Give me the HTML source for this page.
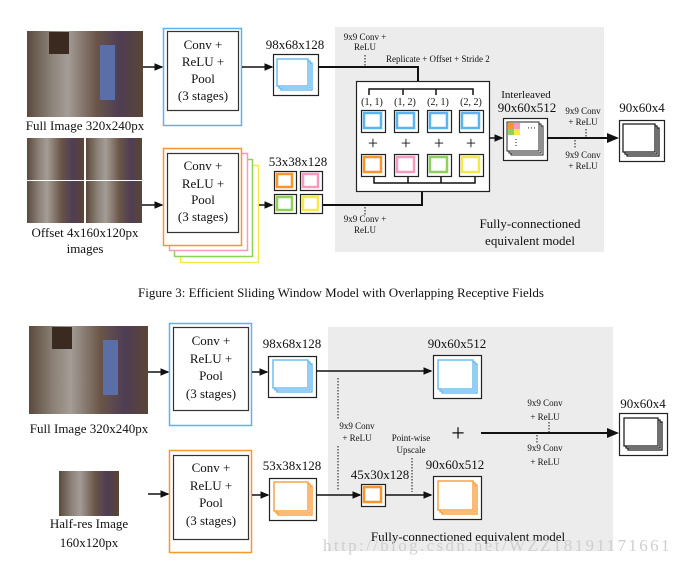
<!DOCTYPE html>
<html><head><meta charset="utf-8"><style>
html,body{margin:0;padding:0;background:#fff;width:683px;height:565px;overflow:hidden}
svg{display:block}
text{font-family:"Liberation Serif",serif;fill:#111}
.s{font-size:9px}
.m{font-size:13px}
</style></head><body>
<svg width="683" height="565" viewBox="0 0 683 565" xmlns="http://www.w3.org/2000/svg">
<defs>
<marker id="a" markerWidth="6" markerHeight="6" refX="5" refY="3" orient="auto"><path d="M0,0.5 L6,3 L0,5.5z" fill="#111"/></marker>
<linearGradient id="ph" x1="0" x2="1"><stop offset="0" stop-color="#5b4a3c"/><stop offset=".2" stop-color="#8a8076"/><stop offset=".35" stop-color="#a49d96"/><stop offset=".6" stop-color="#6a5548"/><stop offset=".8" stop-color="#4f3d54"/><stop offset="1" stop-color="#5a4535"/></linearGradient>
</defs>
<!-- gray regions -->
<rect x="335" y="27" width="269" height="225" fill="#ececec"/>
<rect x="328" y="327" width="285" height="224" fill="#ececec"/>

<!-- TOP FIGURE -->
<rect x="27" y="31" width="116" height="86" fill="url(#ph)"/>
<rect x="49" y="32" width="20" height="22" fill="#3a2a20"/>
<rect x="100" y="45" width="15" height="55" fill="#5a6fa8"/>
<text x="85" y="130" class="m" text-anchor="middle">Full Image 320x240px</text>

<rect x="27" y="138" width="57" height="42" fill="url(#ph)"/><rect x="86" y="138" width="56" height="42" fill="url(#ph)"/>
<rect x="27" y="181" width="57" height="42" fill="url(#ph)"/><rect x="86" y="181" width="56" height="42" fill="url(#ph)"/>
<text x="85" y="237" class="m" text-anchor="middle">Offset 4x160x120px</text>
<text x="85" y="253" class="m" text-anchor="middle">images</text>

<rect x="163.5" y="28.5" width="78" height="97" fill="#fff" stroke="#5ab4ee" stroke-width="1.5"/>
<rect x="167.5" y="31.5" width="71" height="79" fill="#fff" stroke="#333" stroke-width="1.2"/>
<text x="203" y="49" class="m" text-anchor="middle">Conv +</text>
<text x="203" y="66" class="m" text-anchor="middle">ReLU +</text>
<text x="203" y="83" class="m" text-anchor="middle">Pool</text>
<text x="203" y="100" class="m" text-anchor="middle">(3 stages)</text>

<rect x="180.5" y="165.5" width="78" height="97" fill="#fff" stroke="#f5e94a" stroke-width="1.5"/>
<rect x="174.5" y="159.5" width="78" height="97" fill="#fff" stroke="#8fd05a" stroke-width="1.5"/>
<rect x="169.5" y="153.5" width="78" height="97" fill="#fff" stroke="#f79ac0" stroke-width="1.5"/>
<rect x="163.5" y="148.5" width="78" height="97" fill="#fff" stroke="#f7962e" stroke-width="1.5"/>
<rect x="167.5" y="153.5" width="71" height="79" fill="#fff" stroke="#333" stroke-width="1.2"/>
<text x="203" y="170" class="m" text-anchor="middle">Conv +</text>
<text x="203" y="188" class="m" text-anchor="middle">ReLU +</text>
<text x="203" y="204" class="m" text-anchor="middle">Pool</text>
<text x="203" y="221" class="m" text-anchor="middle">(3 stages)</text>

<line x1="143" y1="67" x2="162" y2="67" stroke="#111" stroke-width="1.5" marker-end="url(#a)"/>
<line x1="142" y1="205" x2="162" y2="205" stroke="#111" stroke-width="1.5" marker-end="url(#a)"/>
<line x1="242" y1="67" x2="272" y2="67" stroke="#111" stroke-width="1.5" marker-end="url(#a)"/>
<line x1="259" y1="205" x2="272" y2="205" stroke="#111" stroke-width="1.5" marker-end="url(#a)"/>

<text x="295" y="49" class="m" text-anchor="middle">98x68x128</text>
<rect x="273.5" y="54.5" width="45" height="41" fill="#fff" stroke="#222" stroke-width="1.2"/>
<rect x="281" y="63" width="31" height="27" fill="#fff" stroke="#5ab4ee" stroke-width="1.3"/>
<rect x="279" y="61" width="31" height="27" fill="#fff" stroke="#5ab4ee" stroke-width="1.3"/>
<rect x="277" y="59" width="31" height="27" fill="#fff" stroke="#5ab4ee" stroke-width="1.3"/>

<text x="298" y="166" class="m" text-anchor="middle">53x38x128</text>
<g stroke-width="1.2">
<rect x="274.5" y="171.5" width="22" height="19" fill="#fff" stroke="#222"/><rect x="277" y="174" width="15" height="13" fill="#fff" stroke="#f7962e" stroke-width="2.5"/>
<rect x="300.5" y="171.5" width="22" height="19" fill="#fff" stroke="#222"/><rect x="303" y="174" width="15" height="13" fill="#fff" stroke="#f79ac0" stroke-width="2.5"/>
<rect x="274.5" y="194.5" width="22" height="19" fill="#fff" stroke="#222"/><rect x="277" y="197" width="15" height="13" fill="#fff" stroke="#8fd05a" stroke-width="2.5"/>
<rect x="300.5" y="194.5" width="22" height="19" fill="#fff" stroke="#222"/><rect x="303" y="197" width="15" height="13" fill="#fff" stroke="#f5e94a" stroke-width="2.5"/>
</g>

<!-- connections top -->
<polyline points="318,67 418,67 418,81" fill="none" stroke="#111" stroke-width="2"/>
<polyline points="323,205 422,205 422,191" fill="none" stroke="#111" stroke-width="2"/>
<text x="365" y="40" class="s" text-anchor="middle">9x9 Conv +</text>
<text x="365" y="50" class="s" text-anchor="middle">ReLU</text>
<line x1="365" y1="55" x2="365" y2="66" stroke="#111" stroke-dasharray="1.5,1.5"/>
<text x="386" y="62" class="s">Replicate + Offset + Stride 2</text>
<line x1="365" y1="207" x2="365" y2="216" stroke="#111" stroke-dasharray="1.5,1.5"/>
<text x="365" y="222" class="s" text-anchor="middle">9x9 Conv +</text>
<text x="365" y="233" class="s" text-anchor="middle">ReLU</text>

<rect x="356.5" y="81.5" width="133" height="110" fill="#fff" stroke="#222" stroke-width="1.2"/>
<polyline points="369,95 369,89 473,89 473,95" fill="none" stroke="#111" stroke-width="1.5"/>
<line x1="403" y1="89" x2="403" y2="95" stroke="#111" stroke-width="1.5"/><line x1="436" y1="89" x2="436" y2="95" stroke="#111" stroke-width="1.5"/>
<polyline points="374,176 374,183 475,183 475,176" fill="none" stroke="#111" stroke-width="1.5"/>
<line x1="408" y1="183" x2="408" y2="176" stroke="#111" stroke-width="1.5"/><line x1="441" y1="183" x2="441" y2="176" stroke="#111" stroke-width="1.5"/>
<g class="s"><text x="372" y="105" text-anchor="middle" style="font-size:10px">(1, 1)</text><text x="405" y="105" text-anchor="middle" style="font-size:10px">(1, 2)</text><text x="438" y="105" text-anchor="middle" style="font-size:10px">(2, 1)</text><text x="471" y="105" text-anchor="middle" style="font-size:10px">(2, 2)</text></g>
<g stroke-width="1.2">
<rect x="361.5" y="110.5" width="24" height="22" fill="#fff" stroke="#222"/><rect x="364" y="113" width="17" height="15" fill="#fff" stroke="#5ab4ee" stroke-width="2.5"/>
<rect x="394.5" y="110.5" width="24" height="22" fill="#fff" stroke="#222"/><rect x="397" y="113" width="17" height="15" fill="#fff" stroke="#5ab4ee" stroke-width="2.5"/>
<rect x="427.5" y="110.5" width="24" height="22" fill="#fff" stroke="#222"/><rect x="430" y="113" width="17" height="15" fill="#fff" stroke="#5ab4ee" stroke-width="2.5"/>
<rect x="459.5" y="110.5" width="24" height="22" fill="#fff" stroke="#222"/><rect x="462" y="113" width="17" height="15" fill="#fff" stroke="#5ab4ee" stroke-width="2.5"/>
<rect x="361.5" y="154.5" width="24" height="22" fill="#fff" stroke="#222"/><rect x="364" y="157" width="17" height="15" fill="#fff" stroke="#f7962e" stroke-width="2.5"/>
<rect x="394.5" y="154.5" width="24" height="22" fill="#fff" stroke="#222"/><rect x="397" y="157" width="17" height="15" fill="#fff" stroke="#f79ac0" stroke-width="2.5"/>
<rect x="427.5" y="154.5" width="24" height="22" fill="#fff" stroke="#222"/><rect x="430" y="157" width="17" height="15" fill="#fff" stroke="#8fd05a" stroke-width="2.5"/>
<rect x="459.5" y="154.5" width="24" height="22" fill="#fff" stroke="#222"/><rect x="462" y="157" width="17" height="15" fill="#fff" stroke="#f5e94a" stroke-width="2.5"/>
</g>
<g style="font-size:18px"><text x="373" y="149" text-anchor="middle" style="font-size:18px">+</text><text x="406" y="149" text-anchor="middle" style="font-size:18px">+</text><text x="439" y="149" text-anchor="middle" style="font-size:18px">+</text><text x="471" y="149" text-anchor="middle" style="font-size:18px">+</text></g>

<line x1="489" y1="138" x2="502" y2="138" stroke="#111" stroke-width="1.5" marker-end="url(#a)"/>
<text x="526" y="98" style="font-size:11px" text-anchor="middle">Interleaved</text>
<text x="527" y="112" class="m" text-anchor="middle">90x60x512</text>
<rect x="503.5" y="118.5" width="44" height="42" fill="#fff" stroke="#222" stroke-width="1.2"/>
<rect x="511" y="126" width="32" height="29" fill="#fff" stroke="#222"/>
<rect x="509" y="124" width="32" height="29" fill="#fff" stroke="#222"/>
<rect x="507" y="122" width="32" height="29" fill="#fff" stroke="#222"/>
<rect x="508" y="123" width="6" height="6" fill="#f7962e"/><rect x="514" y="123" width="6" height="6" fill="#f79ac0"/>
<rect x="508" y="129" width="6" height="6" fill="#8fd05a"/><rect x="514" y="129" width="6" height="6" fill="#f5e94a"/>
<text x="527" y="131" class="s">···</text>
<line x1="516" y1="139" x2="516" y2="147" stroke="#111" stroke-dasharray="1,2"/>
<line x1="547" y1="138" x2="617" y2="138" stroke="#111" stroke-width="2" marker-end="url(#a)"/>
<text x="583" y="114" class="s" text-anchor="middle">9x9 Conv</text>
<text x="583" y="125" class="s" text-anchor="middle">+ ReLU</text>
<line x1="586" y1="129" x2="586" y2="137" stroke="#111" stroke-dasharray="1.5,1.5"/>
<line x1="575" y1="140" x2="575" y2="148" stroke="#111" stroke-dasharray="1.5,1.5"/>
<text x="583" y="158" class="s" text-anchor="middle">9x9 Conv</text>
<text x="583" y="169" class="s" text-anchor="middle">+ ReLU</text>
<text x="642" y="112" class="m" text-anchor="middle">90x60x4</text>
<rect x="619.5" y="120.5" width="45" height="41" fill="#fff" stroke="#222" stroke-width="1.2"/>
<rect x="627" y="128" width="32" height="28" fill="#fff" stroke="#222" stroke-width="1.3"/>
<rect x="625" y="126" width="32" height="28" fill="#fff" stroke="#222" stroke-width="1.3"/>
<rect x="623" y="124" width="32" height="28" fill="#fff" stroke="#222" stroke-width="1.3"/>
<text x="530" y="228" class="m" text-anchor="middle">Fully-connectioned</text>
<text x="530" y="245" class="m" text-anchor="middle">equivalent model</text>

<text x="341" y="297" class="m" text-anchor="middle">Figure 3: Efficient Sliding Window Model with Overlapping Receptive Fields</text>

<!-- BOTTOM FIGURE -->
<rect x="29" y="326" width="119" height="88" fill="url(#ph)"/>
<rect x="52" y="327" width="20" height="22" fill="#3a2a20"/>
<rect x="103" y="340" width="15" height="55" fill="#5a6fa8"/>
<text x="89" y="433" class="m" text-anchor="middle">Full Image 320x240px</text>
<rect x="59" y="471" width="60" height="45" fill="url(#ph)"/>
<text x="89" y="528" class="m" text-anchor="middle">Half-res Image</text>
<text x="89" y="547" class="m" text-anchor="middle">160x120px</text>

<rect x="169.5" y="323.5" width="82" height="102" fill="#fff" stroke="#5ab4ee" stroke-width="1.5"/>
<rect x="173.5" y="327.5" width="75" height="83" fill="#fff" stroke="#333" stroke-width="1.2"/>
<text x="211" y="345" class="m" text-anchor="middle">Conv +</text>
<text x="211" y="363" class="m" text-anchor="middle">ReLU +</text>
<text x="211" y="380" class="m" text-anchor="middle">Pool</text>
<text x="211" y="398" class="m" text-anchor="middle">(3 stages)</text>
<rect x="169.5" y="450.5" width="82" height="102" fill="#fff" stroke="#f7962e" stroke-width="1.5"/>
<rect x="173.5" y="455.5" width="75" height="84" fill="#fff" stroke="#333" stroke-width="1.2"/>
<text x="211" y="472" class="m" text-anchor="middle">Conv +</text>
<text x="211" y="490" class="m" text-anchor="middle">ReLU +</text>
<text x="211" y="507" class="m" text-anchor="middle">Pool</text>
<text x="211" y="525" class="m" text-anchor="middle">(3 stages)</text>

<line x1="148" y1="372" x2="168" y2="372" stroke="#111" stroke-width="1.5" marker-end="url(#a)"/>
<line x1="148" y1="494" x2="168" y2="494" stroke="#111" stroke-width="1.5" marker-end="url(#a)"/>
<line x1="252" y1="372" x2="267" y2="372" stroke="#111" stroke-width="1.5" marker-end="url(#a)"/>
<line x1="252" y1="495" x2="268" y2="495" stroke="#111" stroke-width="1.5" marker-end="url(#a)"/>

<text x="292" y="348" class="m" text-anchor="middle">98x68x128</text>
<rect x="268.5" y="356.5" width="48" height="41" fill="#fff" stroke="#222" stroke-width="1.2"/>
<rect x="277" y="364" width="35" height="28" fill="#fff" stroke="#5ab4ee" stroke-width="1.3"/>
<rect x="275" y="362" width="35" height="28" fill="#fff" stroke="#5ab4ee" stroke-width="1.3"/>
<rect x="273" y="360" width="35" height="28" fill="#fff" stroke="#5ab4ee" stroke-width="1.3"/>
<text x="292" y="470" class="m" text-anchor="middle">53x38x128</text>
<rect x="269.5" y="478.5" width="47" height="42" fill="#fff" stroke="#222" stroke-width="1.2"/>
<rect x="278" y="486" width="34" height="29" fill="#fff" stroke="#f7962e" stroke-width="1.3"/>
<rect x="276" y="484" width="34" height="29" fill="#fff" stroke="#f7962e" stroke-width="1.3"/>
<rect x="274" y="482" width="34" height="29" fill="#fff" stroke="#f7962e" stroke-width="1.3"/>

<line x1="316" y1="371" x2="431" y2="371" stroke="#111" stroke-width="1.5" marker-end="url(#a)"/>
<text x="457" y="348" class="m" text-anchor="middle">90x60x512</text>
<rect x="433.5" y="355.5" width="48" height="43" fill="#fff" stroke="#222" stroke-width="1.2"/>
<rect x="442" y="364" width="35" height="29" fill="#fff" stroke="#5ab4ee" stroke-width="1.3"/>
<rect x="440" y="362" width="35" height="29" fill="#fff" stroke="#5ab4ee" stroke-width="1.3"/>
<rect x="438" y="360" width="35" height="29" fill="#fff" stroke="#5ab4ee" stroke-width="1.3"/>

<line x1="338" y1="378" x2="338" y2="420" stroke="#111" stroke-dasharray="1.5,1.5"/>
<text x="357" y="429" class="s" text-anchor="middle">9x9 Conv</text>
<text x="357" y="441" class="s" text-anchor="middle">+ ReLU</text>
<line x1="338" y1="446" x2="338" y2="491" stroke="#111" stroke-dasharray="1.5,1.5"/>

<line x1="316" y1="495" x2="360" y2="495" stroke="#111" stroke-width="1.5" marker-end="url(#a)"/>
<text x="380" y="479" class="m" text-anchor="middle">45x30x128</text>
<rect x="361.5" y="484.5" width="24" height="22" fill="#fff" stroke="#222" stroke-width="1.2"/>
<rect x="364" y="487" width="17" height="15" fill="#fff" stroke="#f7962e" stroke-width="2.5"/>
<line x1="385" y1="495" x2="431" y2="495" stroke="#111" stroke-width="1.5" marker-end="url(#a)"/>
<text x="411" y="441" class="s" text-anchor="middle">Point-wise</text>
<text x="411" y="453" class="s" text-anchor="middle">Upscale</text>
<line x1="412" y1="458" x2="412" y2="492" stroke="#111" stroke-dasharray="1.5,1.5"/>
<text x="455" y="469" class="m" text-anchor="middle">90x60x512</text>
<rect x="433.5" y="476.5" width="48" height="43" fill="#fff" stroke="#222" stroke-width="1.2"/>
<rect x="442" y="485" width="35" height="29" fill="#fff" stroke="#f7962e" stroke-width="1.3"/>
<rect x="440" y="483" width="35" height="29" fill="#fff" stroke="#f7962e" stroke-width="1.3"/>
<rect x="438" y="481" width="35" height="29" fill="#fff" stroke="#f7962e" stroke-width="1.3"/>

<text x="458" y="441" text-anchor="middle" style="font-size:24px">+</text>
<line x1="481" y1="433" x2="617" y2="433" stroke="#111" stroke-width="2" marker-end="url(#a)"/>
<text x="545" y="406" class="s" text-anchor="middle">9x9 Conv</text>
<text x="545" y="420" class="s" text-anchor="middle">+ ReLU</text>
<line x1="549" y1="422" x2="549" y2="432" stroke="#111" stroke-dasharray="1.5,1.5"/>
<line x1="537" y1="435" x2="537" y2="443" stroke="#111" stroke-dasharray="1.5,1.5"/>
<text x="545" y="451" class="s" text-anchor="middle">9x9 Conv</text>
<text x="545" y="465" class="s" text-anchor="middle">+ ReLU</text>
<text x="643" y="408" class="m" text-anchor="middle">90x60x4</text>
<rect x="619.5" y="413.5" width="48" height="42" fill="#fff" stroke="#222" stroke-width="1.2"/>
<rect x="628" y="422" width="34" height="28" fill="#fff" stroke="#222" stroke-width="1.3"/>
<rect x="626" y="420" width="34" height="28" fill="#fff" stroke="#222" stroke-width="1.3"/>
<rect x="624" y="418" width="34" height="28" fill="#fff" stroke="#222" stroke-width="1.3"/>
<text x="468" y="541" class="m" text-anchor="middle">Fully-connectioned equivalent model</text>
<text x="323" y="551" style="font-family:'Liberation Serif',serif;font-size:17px;fill:#cfcfcf;letter-spacing:0.5px" textLength="347">http://blog.csdn.net/WZZ18191171661</text>
</svg>
</body></html>
